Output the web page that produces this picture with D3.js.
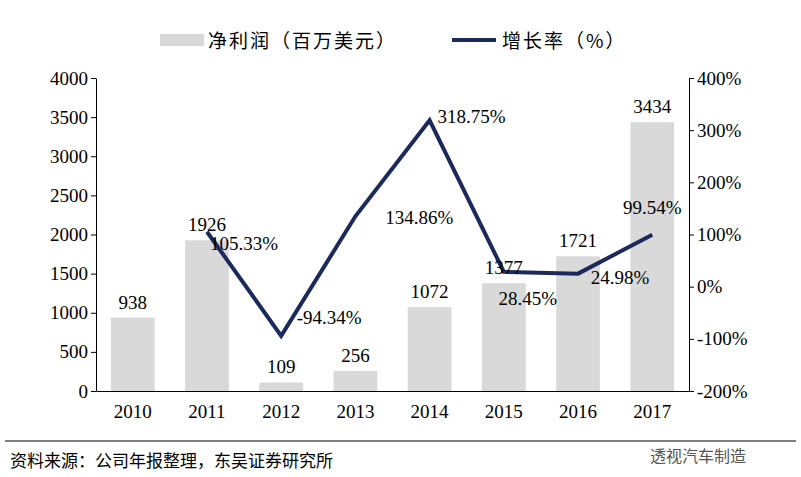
<!DOCTYPE html>
<html><head><meta charset="utf-8">
<script src="https://cdn.jsdelivr.net/npm/d3@7"></script>
<style>body{margin:0;background:#fff}</style></head>
<body><svg id="c" width="801" height="477"></svg>
<script>
const years=["2010","2011","2012","2013","2014","2015","2016","2017"];
const profit=[938,1926,109,256,1072,1377,1721,3434];
const growth=[null,105.33,-94.34,134.86,318.75,28.45,24.98,99.54];
const leftTicks=[0,500,1000,1500,2000,2500,3000,3500,4000];
const rightTicks=[-200,-100,0,100,200,300,400];
// label offsets (dx,dy) from point
const gOff=[null,[37,18],[48,-12],[64,8],[42,3],[24,33],[42,10],[0,-21]];

const svg=d3.select("#c");
const serif="'Liberation Serif','Times New Roman',serif";
const cjk="'Noto Sans CJK SC',sans-serif";
const x=d3.scaleBand().domain(years).range([96,689]).paddingInner(0.41).paddingOuter(0.2);
const yL=d3.scaleLinear().domain([0,4000]).range([391,78]);
const yR=d3.scaleLinear().domain([-200,400]).range([391,78]);

svg.selectAll("rect.b").data(profit).join("rect")
 .attr("x",(d,i)=>x(years[i])).attr("width",x.bandwidth())
 .attr("y",d=>yL(d)).attr("height",d=>yL(0)-yL(d)).attr("fill","#d9d9d9");

const ax=(g)=>{g.selectAll("text").attr("font-family",serif).attr("font-size",19).attr("fill","#000");g.selectAll("path,line").attr("stroke","#000");};
svg.append("g").attr("transform","translate(96,0)").call(d3.axisLeft(yL).tickValues(leftTicks).tickSize(5).tickSizeOuter(0).tickFormat(d3.format("d"))).call(ax);
svg.append("g").attr("transform","translate(689,0)").call(d3.axisRight(yR).tickValues(rightTicks).tickSize(5).tickSizeOuter(0).tickFormat(d=>d+"%")).call(ax);
svg.append("g").attr("transform","translate(0,391)").call(d3.axisBottom(x).tickSize(0).tickPadding(14)).call(ax);

const pts=growth.map((g,i)=>({g,i})).filter(d=>d.g!==null);
const cx=i=>x(years[i])+x.bandwidth()/2;
svg.append("path").datum(pts).attr("fill","none").attr("stroke","#1b2a5b").attr("stroke-width",4)
 .attr("d",d3.line().x(d=>cx(d.i)).y(d=>yR(d.g)));

svg.selectAll("text.v").data(profit).join("text")
 .attr("x",(d,i)=>cx(i)).attr("y",d=>yL(d)-9).attr("text-anchor","middle")
 .attr("font-family",serif).attr("font-size",19).text(d=>d);
svg.selectAll("text.g").data(pts).join("text")
 .attr("x",d=>cx(d.i)+gOff[d.i][0]).attr("y",d=>yR(d.g)+gOff[d.i][1]).attr("text-anchor","middle")
 .attr("font-family",serif).attr("font-size",19).text(d=>d.g.toFixed(2)+"%");

// legend
svg.append("rect").attr("x",160).attr("y",34).attr("width",44).attr("height",12).attr("fill","#d9d9d9");
svg.append("text").attr("x",208).attr("y",48).attr("font-family",cjk).attr("font-size",19).attr("letter-spacing",2).text("净利润（百万美元）");
svg.append("line").attr("x1",452).attr("x2",496).attr("y1",40).attr("y2",40).attr("stroke","#1b2a5b").attr("stroke-width",4);
svg.append("text").attr("x",502).attr("y",48).attr("font-family",cjk).attr("font-size",19).attr("letter-spacing",2).text("增长率（%）");

svg.append("line").attr("x1",5).attr("x2",796).attr("y1",441).attr("y2",441).attr("stroke","#000").attr("stroke-width",1);
svg.append("text").attr("x",10).attr("y",467).attr("font-family",cjk).attr("font-size",17).text("资料来源：公司年报整理，东吴证券研究所");
svg.append("text").attr("x",650).attr("y",462).attr("font-family",cjk).attr("font-size",16).attr("fill","#555").text("透视汽车制造");
</script></body></html>
